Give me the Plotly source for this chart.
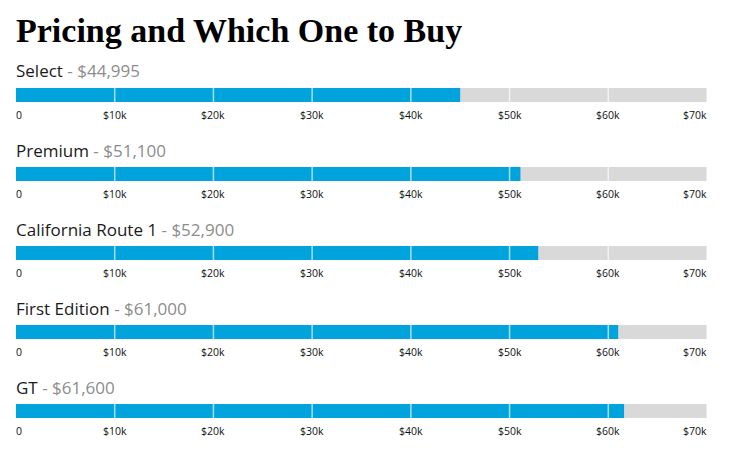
import plotly.graph_objects as go

title = "Pricing and Which One to Buy"
trims = ["Select", "Premium", "California Route 1", "First Edition", "GT"]
prices = [44995, 51100, 52900, 61000, 61600]
axis_max = 70000
tick_vals = [0, 10000, 20000, 30000, 40000, 50000, 60000, 70000]
tick_text = ["0", "$10k", "$20k", "$30k", "$40k", "$50k", "$60k", "$70k"]

BLUE = "#00a3dc"
GREY = "#d9d9d9"
W, H = 730, 455
OFF = 8  # page body margin

fig = go.Figure()
annotations = []
shapes = []

def py(px):
    return 1 - (px - OFF) / H

for i, (name, val) in enumerate(zip(trims, prices)):
    n = i + 1
    xa = "x" if n == 1 else f"x{n}"
    ya = "y" if n == 1 else f"y{n}"
    top = 88 + 79 * i
    bot = 102 + 79 * i
    fig.add_trace(go.Bar(x=[axis_max], y=[0], orientation="h", marker=dict(color=GREY, line=dict(width=0)),
                         width=1, xaxis=xa, yaxis=ya, hoverinfo="skip", showlegend=False))
    fig.add_trace(go.Bar(x=[val], y=[0], orientation="h", marker=dict(color=BLUE, line=dict(width=0)),
                         width=1, xaxis=xa, yaxis=ya, showlegend=False,
                         hovertemplate=f"{name}: ${val:,}<extra></extra>"))
    fig.update_layout(**{
        ("xaxis" if n == 1 else f"xaxis{n}"): dict(range=[0, axis_max], domain=[0, 1], showgrid=False,
                                                     zeroline=False, showticklabels=False, fixedrange=True,
                                                     anchor=ya),
        ("yaxis" if n == 1 else f"yaxis{n}"): dict(range=[-0.5, 0.5], domain=[py(bot), py(top)], showgrid=False,
                                                     zeroline=False, showticklabels=False, fixedrange=True,
                                                     anchor=xa),
    })
    for tv in tick_vals[1:]:
        shapes.append(dict(type="line", xref=xa, yref=f"{ya} domain", x0=tv, x1=tv, y0=0, y1=1,
                           line=dict(color="rgba(255,255,255,0.65)", width=1.5), layer="above"))
    for tv, tt in zip(tick_vals, tick_text):
        if tv == tick_vals[0]:
            anchor, xs = "left", -2
        elif tv == tick_vals[-1]:
            anchor, xs = "right", 2
        else:
            anchor, xs = "center", 0
        annotations.append(dict(x=tv, y=py(115 + 79 * i), xref=xa, yref="paper", text=tt, showarrow=False,
                                xanchor=anchor, yanchor="middle", xshift=xs,
                                font=dict(family="Open Sans", size=10.5, color="#111")))
    annotations.append(dict(x=0, y=py(71 + 79 * i), xref="paper", yref="paper", showarrow=False,
                            xanchor="left", yanchor="middle", xshift=-2,
                            text=f"{name} <span style='color:#8c8c8c'>- ${val:,}</span>",
                            font=dict(family="Open Sans", size=17, color="#1a1a1a")))

annotations.append(dict(x=0, y=py(30), xref="paper", yref="paper", showarrow=False, xanchor="left",
                        yanchor="middle", text=f"<b>{title}</b>", xshift=-2,
                        font=dict(family="Liberation Serif", size=34, color="#000")))

fig.update_layout(width=W, height=H, margin=dict(l=OFF, r=W - OFF - 691, t=0, b=0), barmode="overlay",
                  plot_bgcolor="white", paper_bgcolor="white", annotations=annotations, shapes=shapes)

fig.write_html("out.html")
